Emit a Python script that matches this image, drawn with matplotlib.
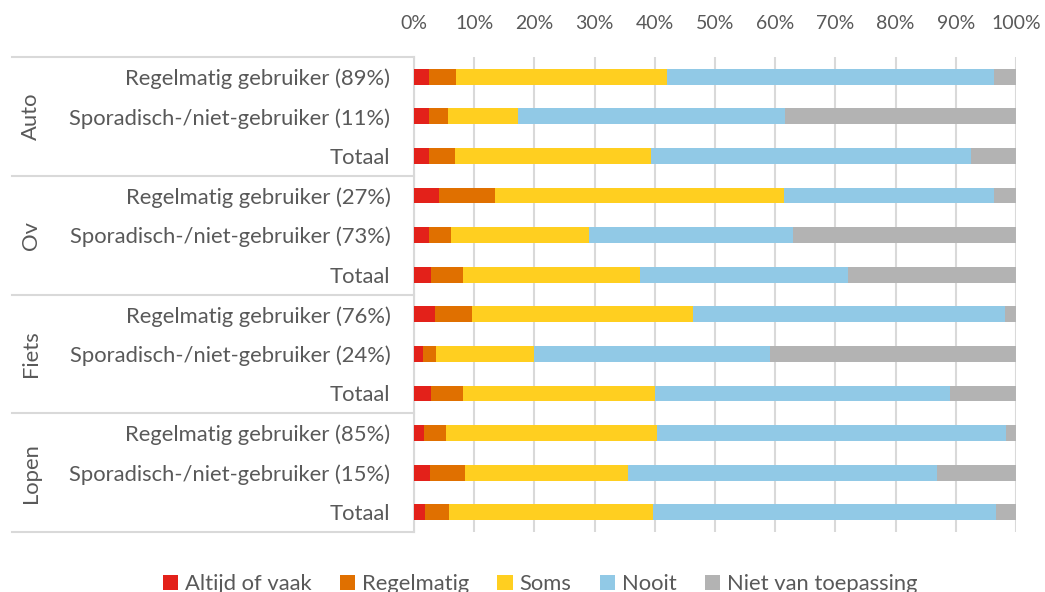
import matplotlib
matplotlib.use("Agg")
import matplotlib.pyplot as plt
import matplotlib.transforms as mtransforms
import numpy as np

plt.rcParams['font.family'] = ['Lato', 'DejaVu Sans']

groups = ["Auto", "Ov", "Fiets", "Lopen"]
row_labels = [
    "Regelmatig gebruiker (89%)", "Sporadisch-/niet-gebruiker (11%)", "Totaal",
    "Regelmatig gebruiker (27%)", "Sporadisch-/niet-gebruiker (73%)", "Totaal",
    "Regelmatig gebruiker (76%)", "Sporadisch-/niet-gebruiker (24%)", "Totaal",
    "Regelmatig gebruiker (85%)", "Sporadisch-/niet-gebruiker (15%)", "Totaal",
]
series_names = ["Altijd of vaak", "Regelmatig", "Soms", "Nooit", "Niet van toepassing"]

altijd = [2.5, 2.5, 2.5, 4.1, 2.5, 2.9, 3.5, 1.5, 2.9, 1.7, 2.6, 1.9]
regelmatig = [4.4, 3.1, 4.3, 9.3, 3.7, 5.3, 6.1, 2.2, 5.2, 3.6, 5.8, 3.9]
soms = [35.2, 11.6, 32.6, 48.0, 22.8, 29.4, 36.7, 16.2, 31.9, 35.1, 27.1, 33.9]
nooit = [54.3, 44.4, 53.2, 34.9, 34.0, 34.5, 51.9, 39.3, 49.0, 58.0, 51.4, 56.9]
nvt = [3.6, 38.4, 7.4, 3.7, 37.0, 27.9, 1.8, 40.8, 11.0, 1.6, 13.1, 3.4]

colors = ["#E3211A", "#E07000", "#FFCF20", "#91C9E6", "#B3B3B3"]
text_color = "#595959"
grid_color = "#D9D9D9"
fs = 15.8

fig = plt.figure(figsize=(10.45, 5.92), dpi=100)
ax = fig.add_axes([414 / 1045, 1 - 532 / 592, (1016 - 414) / 1045, (532 - 57) / 592])

y = np.arange(len(row_labels))
left = np.zeros(len(row_labels))
for vals, name, col in zip([altijd, regelmatig, soms, nooit, nvt], series_names, colors):
    v = np.array(vals)
    ax.barh(y, v, left=left, height=0.4, color=col, label=name, edgecolor="none", zorder=3)
    left += v

ax.set_xlim(0, 100)
ax.set_ylim(len(row_labels) - 0.5, -0.5)
ax.xaxis.tick_top()
ax.set_xticks(np.arange(0, 101, 10))
ax.set_xticklabels([f"{t}%" for t in range(0, 101, 10)])
ax.set_yticks(y)
ax.set_yticklabels(row_labels)
ax.tick_params(axis='x', length=0, pad=18, labelsize=14, colors=text_color)
ax.tick_params(axis='y', length=0, pad=17, labelsize=fs, colors=text_color)
ax.grid(axis='x', color=grid_color, linewidth=1.5, zorder=0)
for s in ["top", "right", "bottom"]:
    ax.spines[s].set_visible(False)
ax.spines["left"].set_color(grid_color)
ax.spines["left"].set_linewidth(1.5)

# group separators and labels
trans = mtransforms.blended_transform_factory(fig.transFigure, ax.transData)
for b in [-0.5, 2.5, 5.5, 8.5, 11.5]:
    ax.plot([12 / 1045, 414 / 1045], [b, b], transform=trans, color=grid_color,
            linewidth=1.5, clip_on=False, zorder=1)
for i, g in enumerate(groups):
    ax.text(31 / 1045, i * 3 + 1, g, transform=trans, rotation=90, ha='center',
            va='center', fontsize=fs, color=text_color)

leg = fig.legend(loc='center', bbox_to_anchor=(540 / 1045, 1 - 584 / 592), ncol=5,
                 frameon=False, fontsize=fs, handlelength=0.7, handleheight=0.7,
                 handletextpad=0.3, columnspacing=1.3)
for t in leg.get_texts():
    t.set_color(text_color)

fig.savefig("out.png", dpi=100)
